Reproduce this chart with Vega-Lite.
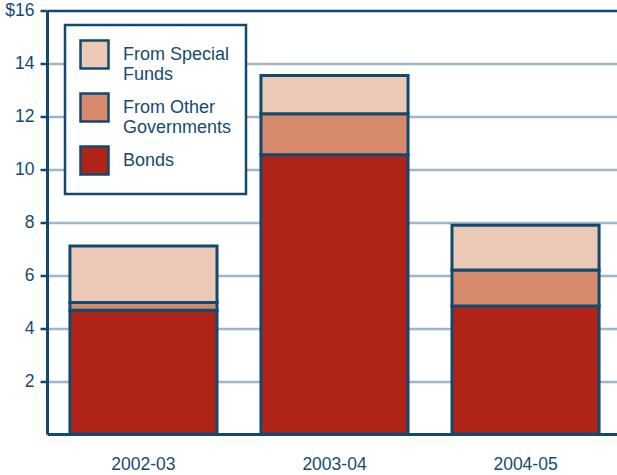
{
  "$schema": "https://vega.github.io/schema/vega-lite/v6.json",
  "width": 575,
  "height": 423.5,
  "autosize": "none",
  "padding": {"left": 47, "top": 10.5, "right": 0, "bottom": 41},
  "background": "white",
  "data": {
    "values": [
      {"year": "2002-03", "source": "Bonds", "o": 1, "amount": 4.68},
      {"year": "2002-03", "source": "From Other Governments", "o": 2, "amount": 0.29},
      {"year": "2002-03", "source": "From Special Funds", "o": 3, "amount": 2.13},
      {"year": "2003-04", "source": "Bonds", "o": 1, "amount": 10.55},
      {"year": "2003-04", "source": "From Other Governments", "o": 2, "amount": 1.55},
      {"year": "2003-04", "source": "From Special Funds", "o": 3, "amount": 1.44},
      {"year": "2004-05", "source": "Bonds", "o": 1, "amount": 4.84},
      {"year": "2004-05", "source": "From Other Governments", "o": 2, "amount": 1.36},
      {"year": "2004-05", "source": "From Special Funds", "o": 3, "amount": 1.69}
    ]
  },
  "mark": {"type": "bar", "stroke": "#124A6F", "strokeWidth": 3},
  "encoding": {
    "x": {
      "field": "year",
      "type": "nominal",
      "scale": {"paddingInner": 0.23, "paddingOuter": 0.12},
      "axis": {
        "title": null,
        "labelAngle": 0,
        "ticks": false,
        "domainColor": "#124A6F",
        "domainWidth": 3,
        "labelFont": "Liberation Sans",
        "labelFontSize": 17.5,
        "labelColor": "#164A72",
        "labelPadding": 21
      }
    },
    "y": {
      "field": "amount",
      "type": "quantitative",
      "stack": "zero",
      "scale": {"domain": [0, 16], "nice": false},
      "axis": {
        "title": null,
        "values": [2, 4, 6, 8, 10, 12, 14, 16],
        "labelExpr": "datum.value == 16 ? '$16' : datum.label",
        "domainColor": "#124A6F",
        "domainWidth": 3,
        "tickColor": "#124A6F",
        "tickWidth": 2.5,
        "tickSize": 7,
        "labelPadding": 6,
        "labelFont": "Liberation Sans",
        "labelFontSize": 17.5,
        "labelColor": "#164A72",
        "grid": true,
        "gridColor": {"condition": {"test": "datum.value == 16", "value": "#124A6F"}, "value": "#9DB6CC"},
        "gridWidth": 2.5,
        "gridOpacity": 1
      }
    },
    "color": {
      "field": "source",
      "type": "nominal",
      "scale": {
        "domain": ["From Special Funds", "From Other Governments", "Bonds"],
        "range": ["#ECC9B7", "#D6896B", "#B02418"]
      },
      "legend": {
        "title": null,
        "orient": "none",
        "legendX": 18,
        "legendY": 14.5,
        "labelExpr": "datum.label == 'From Special Funds' ? ['From Special', 'Funds'] : datum.label == 'From Other Governments' ? ['From Other', 'Governments'] : datum.label",
        "labelFont": "Liberation Sans",
        "labelFontSize": 18,
        "labelColor": "#164A72",
        "labelLimit": 0,
        "labelOffset": 13,
        "symbolType": "square",
        "symbolSize": 784,
        "symbolStrokeColor": "#124A6F",
        "symbolOpacity": 1,
        "rowPadding": 4,
        "padding": 14,
        "strokeColor": "#124A6F",
        "fillColor": "white"
      }
    },
    "order": {"field": "o", "type": "quantitative"}
  },
  "config": {
    "view": {"stroke": null},
    "legend": {"symbolStrokeWidth": 2.5, "strokeWidth": 2.5}
  }
}
